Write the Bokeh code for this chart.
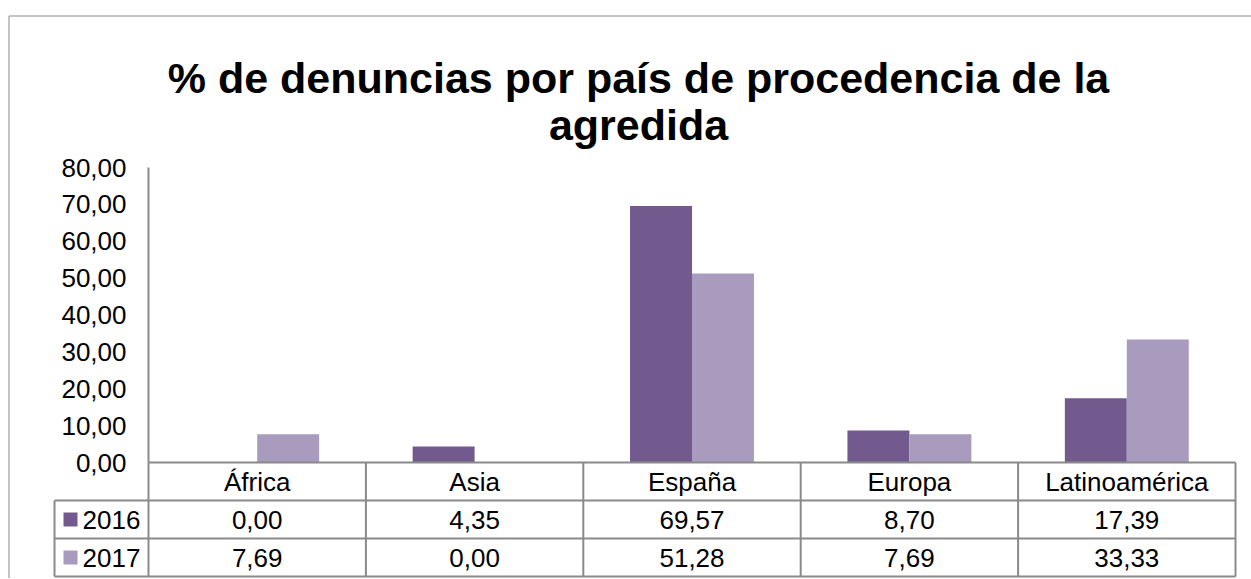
from bokeh.plotting import figure
from bokeh.models import ColumnDataSource, FactorRange, Range1d, FixedTicker
from bokeh.transform import dodge
from bokeh.core.properties import value
from bokeh.embed import file_html
from bokeh.resources import INLINE

# ---------------- data ----------------
title_lines = ["% de denuncias por país de procedencia de la", "agredida"]
categories = ["África", "Asia", "España", "Europa", "Latinoamérica"]
series_names = ["2016", "2017"]
values_2016 = [0.00, 4.35, 69.57, 8.70, 17.39]
values_2017 = [7.69, 0.00, 51.28, 7.69, 33.33]
y_ticks = [0, 10, 20, 30, 40, 50, 60, 70, 80]
colors = ["#725A8F", "#A99BBE"]


def fmt(v):
    return f"{v:.2f}".replace(".", ",")


# ---------------- layout constants (pixels) ----------------
FW, FH = 1087, 295          # plot frame
LEFT, TOP, RIGHT = 148, 167, 16
RH = 38                     # table row height
BOTTOM = 3 * RH + 2
LEG = 94                    # legend column width
GRID = "#8A8A8A"
FONT = "Liberation Sans"
FS = "26px"
N = len(categories)
CW = FW / N                 # pixels per category unit


def ux(px):
    """horizontal pixel offset from frame left -> categorical synthetic units"""
    return px / CW


def uy(page_y):
    """canvas y (from top) -> pixel range 'px' (0 at the value axis baseline)"""
    return FH + TOP - page_y


src = ColumnDataSource(dict(
    cat=categories,
    y2016=values_2016,
    y2017=values_2017,
    t2016=[fmt(v) for v in values_2016],
    t2017=[fmt(v) for v in values_2017],
))

p = figure(
    x_range=FactorRange(*categories),
    y_range=Range1d(0, 80),
    frame_width=FW, frame_height=FH,
    min_border_left=LEFT, min_border_right=RIGHT,
    min_border_top=TOP, min_border_bottom=BOTTOM,
    toolbar_location=None, output_backend="svg",
    x_axis_location=None, title=None,
)
p.extra_y_ranges = {"px": Range1d(0, FH)}
p.outline_line_color = None
p.xgrid.visible = False
p.ygrid.visible = False
p.background_fill_color = "white"
p.border_fill_color = "white"

# y axis
ax = p.yaxis[0]
ax.ticker = FixedTicker(ticks=y_ticks)
ax.major_label_overrides = {float(t): fmt(t) for t in y_ticks}
ax.major_tick_out = 0
ax.major_tick_in = 0
ax.minor_tick_out = 0
ax.minor_tick_in = 0
ax.axis_line_color = GRID
ax.axis_line_width = 2
ax.major_label_standoff = 22
ax.major_label_text_font = FONT
ax.major_label_text_font_size = FS
ax.major_label_text_color = "black"

# bars
bw = 0.285
p.vbar(x=dodge("cat", -bw / 2, range=p.x_range), top="y2016", width=bw,
       source=src, fill_color=colors[0], line_color=None)
p.vbar(x=dodge("cat", bw / 2, range=p.x_range), top="y2017", width=bw,
       source=src, fill_color=colors[1], line_color=None)

# ---------------- data table below the plot ----------------
xs, ys = [], []
xs.append([0, N]); ys.append([0, 0])
for k in (1, 2, 3):
    xs.append([ux(-LEG), N]); ys.append([-k * RH, -k * RH])
for i in range(N + 1):
    xs.append([i, i]); ys.append([0, -3 * RH])
xs.append([ux(-LEG), ux(-LEG)]); ys.append([-RH, -3 * RH])
p.multi_line(xs=xs, ys=ys, line_color=GRID, line_width=2,
             y_range_name="px", level="annotation")

# outer chart border (top and left)
bx = ux(-LEFT + 8.5)
by = uy(15.5)
p.multi_line(xs=[[bx, bx], [bx, ux(FW + RIGHT + 5)]],
             ys=[[-BOTTOM - 5, by], [by, by]],
             line_color=GRID, line_width=1,
             y_range_name="px", level="annotation")

txt = dict(text_font=value(FONT), text_font_size=FS, text_color="black",
           text_align="center", text_baseline="middle",
           y_range_name="px", level="annotation", source=src)
p.text(x="cat", y=-RH / 2, text="cat", **txt)
p.text(x="cat", y=-1.5 * RH, text="t2016", **txt)
p.text(x="cat", y=-2.5 * RH, text="t2017", **txt)

# legend keys in the table
leg_y = [-1.5 * RH, -2.5 * RH]
p.quad(left=ux(-85), right=ux(-71), top=[c + 7 for c in leg_y], bottom=[c - 7 for c in leg_y],
       fill_color=colors, line_color=None,
       y_range_name="px", level="annotation")
p.text(x=ux(-66), y=leg_y, text=series_names, text_font=value(FONT), text_font_size=FS,
       text_color="black", text_align="left", text_baseline="middle",
       y_range_name="px", level="annotation")

# title
p.text(x=ux(638 - LEFT), y=[uy(77), uy(124)], text=title_lines,
       text_font=value(FONT), text_font_size="43px", text_font_style="bold",
       text_color="black", text_align="center", text_baseline="alphabetic",
       y_range_name="px", level="annotation")

open("out.html", "w").write(file_html(p, INLINE))
